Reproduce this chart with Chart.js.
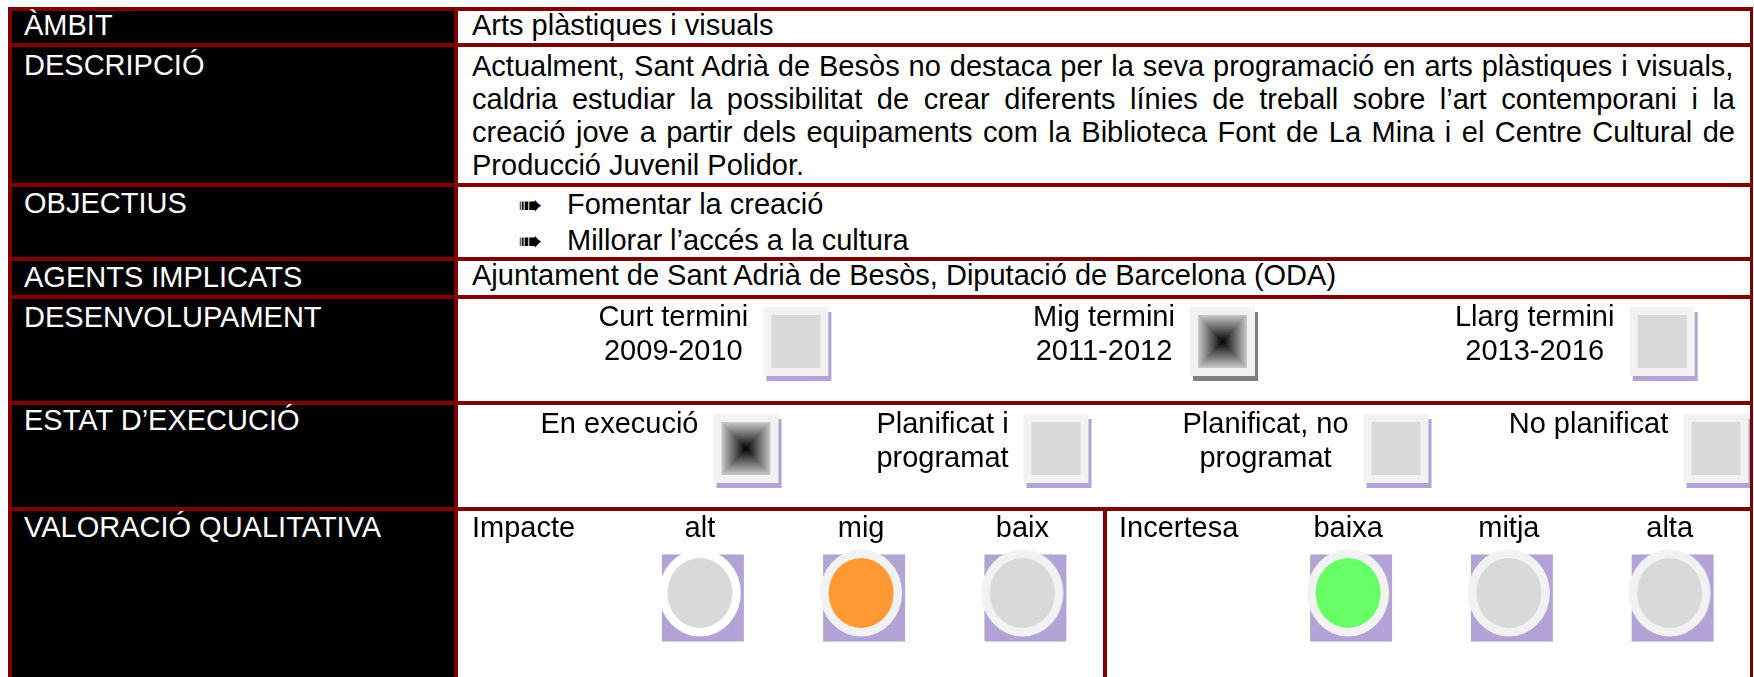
<!DOCTYPE html>
<html>
<head>
<meta charset="utf-8">
<script src="https://cdn.jsdelivr.net/npm/chart.js@4.4.1/dist/chart.umd.min.js"></script>
<style>
  body { margin: 0; background: #fff; overflow: hidden; }
  #sheet { position: relative; width: 1754px; height: 677px; overflow: hidden;
           font-family: "Liberation Sans", Arial, sans-serif; font-size: 29px; }
  #sheet div, #sheet canvas, #sheet span { position: absolute; }
  .t { white-space: nowrap; line-height: 33px; }
</style>
</head>
<body>
<div id="sheet"></div>

<script>
// ---- dades de la fitxa ----
const rowTitles = ['ÀMBIT', 'DESCRIPCIÓ', 'OBJECTIUS', 'AGENTS IMPLICATS',
                   'DESENVOLUPAMENT', 'ESTAT D’EXECUCIÓ', 'VALORACIÓ QUALITATIVA'];
const ambit = 'Arts plàstiques i visuals';
const descripcio = [
  'Actualment, Sant Adrià de Besòs no destaca per la seva programació en arts plàstiques i visuals,',
  'caldria estudiar la possibilitat de crear diferents línies de treball sobre l’art contemporani i la',
  'creació jove a partir dels equipaments com la Biblioteca Font de La Mina i el Centre Cultural de',
  'Producció Juvenil Polidor.'
];
const objectius = ['Fomentar la creació', 'Millorar l’accés a la cultura'];
const agents = 'Ajuntament de Sant Adrià de Besòs, Diputació de Barcelona (ODA)';

// desenvolupament: 1 = marcat
const terminiLabels = [['Curt termini', '2009-2010'], ['Mig termini', '2011-2012'], ['Llarg termini', '2013-2016']];
const terminiMarked = [0, 1, 0];

// estat d'execució
const estatLabels = [['En execució'], ['Planificat i', 'programat'], ['Planificat, no', 'programat'], ['No planificat']];
const estatMarked = [1, 0, 0, 0];

// valoració qualitativa
const impacteLevels = ['alt', 'mig', 'baix'];
const impacteMarked = [0, 1, 0];
const incertesaLevels = ['baixa', 'mitja', 'alta'];
const incertesaMarked = [1, 0, 0];

// ---- estils ----
const RED = '#800000';
const PURPLE = '#b2a2d6';
const FRAME = '#f2f2f2';
const EMPTY = '#d9d9d9';
const FONT = '29px "Liberation Sans", Arial, sans-serif';
const terminiShadow = [PURPLE, '#808080', PURPLE];
const impacteRing = ['#ffffff', FRAME, FRAME];
const incertesaRing = [FRAME, FRAME, FRAME];
const impacteFill = '#ff9933';
const incertesaFill = '#66ff66';

// files de la taula (interior entre línies vermelles)
const rowsY = [[11, 43], [47, 183], [187, 257], [261, 295], [299, 401], [405, 507], [511, 680]];
const titleBase = [35, 75, 213, 287, 327, 430, 537];

const sheet = document.getElementById('sheet');

function box(x, y, w, h, bg) {
  const d = document.createElement('div');
  d.style.cssText = `left:${x}px;top:${y}px;width:${w}px;height:${h}px;background:${bg}`;
  sheet.appendChild(d);
  return d;
}
// text amb la línia base a "base"
function txt(str, x, base, color, extra) {
  const d = document.createElement('div');
  d.className = 't';
  d.textContent = str;
  d.style.cssText += `left:${x}px;top:${base - 26.5}px;color:${color};` + (extra || '');
  sheet.appendChild(d);
  return d;
}

// marc vermell i cel·les
box(8, 7, 1745, 675, RED);
rowsY.forEach(([a, b], i) => {
  box(12, a, 442, b - a, '#000');
  if (i < 6) box(458, a, 1292, b - a, '#fff');
});
box(458, 511, 645, 170, '#fff');
box(1107, 511, 643, 170, '#fff');

rowTitles.forEach((s, i) => txt(s, 24, titleBase[i], '#fff'));

txt(ambit, 472, 35, '#000');

// descripció justificada línia a línia
const mctx = document.createElement('canvas').getContext('2d');
function textW(s) { mctx.font = FONT; return mctx.measureText(s).width; }
descripcio.forEach((line, i) => {
  const d = txt(line, 472, 76 + i * 33, '#000');
  if (i < descripcio.length - 1) {
    const spaces = line.split(' ').length - 1;
    const ws = (1263 - textW(line)) / spaces;
    d.style.wordSpacing = ws + 'px';
  }
});

objectius.forEach((s, i) => {
  const base = 214 + i * 36;
  txt('➠', 518, base + 1, '#000', 'font-family:"DejaVu Sans";font-size:29px;');
  txt(s, 567, base, '#000');
});

txt(agents, 472, 285, '#000');

// canvas per als indicadors
function addCanvas(id, x, y, w, h) {
  const c = document.createElement('canvas');
  c.id = id; c.width = w; c.height = h;
  c.style.left = x + 'px'; c.style.top = y + 'px';
  sheet.appendChild(c);
  return c;
}

// ---- imatges de punt ----
const BOX_W = 65, BOX_H = 69, BOX_IN = 8, SH_X = 3, SH_Y = 5, GAP = 15;

function checkImage(lines, marked, shadow) {
  const tw = Math.max(...lines.map(textW));
  const dx = tw / 2 + GAP + BOX_W / 2;
  const halfW = Math.ceil(dx + BOX_W / 2 + SH_X + 2);
  const halfH = Math.ceil(BOX_H / 2 + SH_Y + 2);
  const c = document.createElement('canvas');
  c.width = halfW * 2; c.height = halfH * 2;
  const g = c.getContext('2d');
  const x0 = Math.round(halfW + dx - BOX_W / 2), y0 = Math.round(halfH - BOX_H / 2);
  g.fillStyle = shadow;
  g.fillRect(x0 + SH_X, y0 + SH_Y, BOX_W, BOX_H);
  g.fillStyle = FRAME;
  g.fillRect(x0, y0, BOX_W, BOX_H);
  const ix = x0 + BOX_IN, iy = y0 + BOX_IN, iw = BOX_W - 2 * BOX_IN, ih = BOX_H - 2 * BOX_IN;
  if (marked) {
    const N = 40;
    for (let k = 0; k < N; k++) {
      const t = k / N, v = Math.round(200 * (1 - t));
      g.fillStyle = `rgb(${v},${v},${v})`;
      g.fillRect(ix + t * iw / 2, iy + t * ih / 2, iw * (1 - t), ih * (1 - t));
    }
  } else {
    g.fillStyle = EMPTY;
    g.fillRect(ix, iy, iw, ih);
  }
  return c;
}

function dotImage(fill, ring) {
  const c = document.createElement('canvas');
  c.width = 92; c.height = 102;
  const g = c.getContext('2d');
  const cx = 46, cy = 51;
  g.fillStyle = PURPLE;
  g.fillRect(cx - 41 + 3, cy - 43.5 + 5, 82, 87);
  g.fillStyle = ring;
  g.beginPath(); g.ellipse(cx, cy, 41, 43.5, 0, 0, Math.PI * 2); g.fill();
  g.fillStyle = fill;
  g.beginPath(); g.ellipse(cx, cy, 32.5, 35, 0, 0, Math.PI * 2); g.fill();
  return c;
}

// ---- etiquetes dibuixades pel gràfic ----
const markLabels = {
  id: 'markLabels',
  afterDatasetsDraw(chart, args, opts) {
    const { ctx } = chart;
    const xs = chart.scales.x, ys = chart.scales.y;
    ctx.save();
    ctx.font = FONT;
    ctx.fillStyle = '#000';
    ctx.textBaseline = 'alphabetic';
    chart.data.labels.forEach((lab, i) => {
      const x = xs.getPixelForValue(i);
      if (opts.mode === 'side') {
        const y = ys.getPixelForValue(0);
        ctx.textAlign = 'center';
        [].concat(lab).forEach((s, k) => ctx.fillText(s, x, y - 15 + k * 34));
      } else {
        if (i === 0) {
          ctx.textAlign = 'left';
          ctx.fillText(lab, opts.headerX, opts.base);
        } else {
          ctx.textAlign = 'center';
          ctx.fillText(lab, x, opts.base);
        }
      }
    });
    ctx.restore();
  }
};

function markChart(canvas, labels, values, styles, cy, labelOpts) {
  const pad = canvas.height - 2 * cy;
  return new Chart(canvas, {
    type: 'line',
    data: {
      labels: labels,
      datasets: [{ data: values, showLine: false, pointStyle: styles, pointRadius: 30, clip: false }]
    },
    options: {
      responsive: false,
      animation: false,
      events: [],
      layout: { autoPadding: false,
                padding: { top: Math.max(0, -pad), bottom: Math.max(0, pad), left: 0, right: 0 } },
      scales: {
        x: { type: 'category', offset: true, display: false },
        y: { min: -1, max: 1, display: false }
      },
      plugins: { legend: { display: false }, tooltip: { enabled: false }, markLabels: labelOpts }
    },
    plugins: [markLabels]
  });
}

// desenvolupament
markChart(addCanvas('cDes', 458, 299, 1292, 102), terminiLabels,
  terminiLabels.map(() => 0),
  terminiLabels.map((l, i) => checkImage(l, terminiMarked[i], terminiShadow[i])),
  42, { mode: 'side' });

// estat d'execució
markChart(addCanvas('cEst', 458, 405, 1292, 102), estatLabels,
  estatLabels.map(() => 0),
  estatLabels.map((l, i) => checkImage(l, estatMarked[i], PURPLE)),
  43, { mode: 'side' });

// impacte
markChart(addCanvas('cImp', 458, 511, 645, 166), ['Impacte', ...impacteLevels],
  [null, ...impacteLevels.map(() => 0)],
  [null, ...impacteLevels.map((l, i) => dotImage(impacteMarked[i] ? impacteFill : EMPTY, impacteRing[i]))],
  82, { mode: 'top', headerX: 14, base: 26 });

// incertesa
markChart(addCanvas('cInc', 1107, 511, 643, 166), ['Incertesa', ...incertesaLevels],
  [null, ...incertesaLevels.map(() => 0)],
  [null, ...incertesaLevels.map((l, i) => dotImage(incertesaMarked[i] ? incertesaFill : EMPTY, incertesaRing[i]))],
  82, { mode: 'top', headerX: 12, base: 26 });
</script>
</body>
</html>
